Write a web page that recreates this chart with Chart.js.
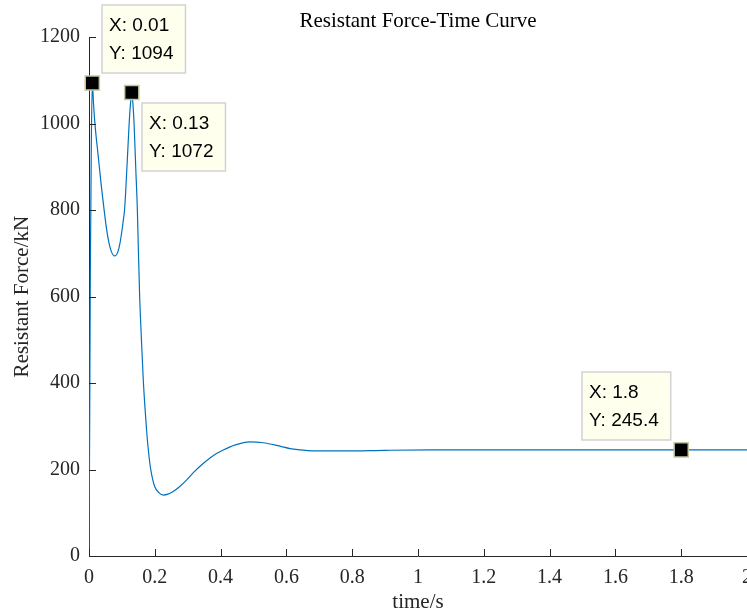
<!DOCTYPE html>
<html>
<head>
<meta charset="utf-8">
<title>Resistant Force-Time Curve</title>
<script src="https://cdn.jsdelivr.net/npm/chart.js@4.4.1/dist/chart.umd.min.js"></script>
<style>
  html, body { margin: 0; padding: 0; background: #fff; overflow: hidden; }
  #wrap { width: 747px; height: 611px; }
</style>
</head>
<body>
<div id="wrap"><canvas id="forceChart"></canvas></div>
<script>
// curve samples (time in s, force in kN)
const timeS = [0, 0.002, 0.004, 0.007, 0.01, 0.014, 0.018, 0.028, 0.038, 0.046, 0.054, 0.061,
  0.068, 0.078, 0.088, 0.094, 0.101, 0.104, 0.108, 0.112, 0.118, 0.122, 0.126, 0.13, 0.134,
  0.137, 0.142, 0.147, 0.15, 0.154, 0.16, 0.165, 0.17, 0.175, 0.18, 0.185, 0.19, 0.2, 0.213,
  0.226, 0.24, 0.256, 0.275, 0.297, 0.32, 0.347, 0.375, 0.408, 0.445, 0.489, 0.53, 0.58,
  0.611, 0.65, 0.7, 0.783, 0.9, 1.04, 1.2, 1.4, 1.6, 1.8, 2.0];
const forceKN = [0, 300, 650, 950, 1094, 1043, 1000, 925, 852, 800, 753, 723,
  704, 694, 704, 723, 757, 775, 800, 850, 940, 1000, 1045, 1072, 1040,
  1000, 900, 800, 710, 600, 490, 407, 345, 291, 248, 214, 190, 160, 146,
  141, 143, 149, 160, 176, 195, 214, 231, 245, 257, 264, 262, 254,
  248.5, 245, 243, 243, 244.5, 245.5, 245.5, 245.4, 245.4, 245.4, 245.4];

// data tips
const tipTime = [0.01, 0.13, 1.8];
const tipForce = [1094, 1072, 245.4];
const tipSide = ['ne', 'se', 'nw'];

// axes
const xTicks = [0, 0.2, 0.4, 0.6, 0.8, 1, 1.2, 1.4, 1.6, 1.8, 2];
const xTickLabels = ['0', '0.2', '0.4', '0.6', '0.8', '1', '1.2', '1.4', '1.6', '1.8', '2'];
const yTicks = [0, 200, 400, 600, 800, 1000, 1200];
const yTickLabels = ['0', '200', '400', '600', '800', '1000', '1200'];

const SERIF = '"Liberation Serif", "Times New Roman", serif';
const AXIS_COLOR = '#262626';

// MATLAB style ticks point into the plot
const inwardTicks = {
    id: 'inwardTicks',
    afterDraw(chart) {
        const { ctx, scales: { x, y } } = chart;
        ctx.save();
        ctx.strokeStyle = AXIS_COLOR;
        ctx.lineWidth = 1;
        ctx.beginPath();
        xTicks.forEach(v => {
            const px = Math.round(x.getPixelForValue(v)) + 0.5;
            ctx.moveTo(px, y.bottom);
            ctx.lineTo(px, y.bottom - 7);
        });
        yTicks.forEach(v => {
            const py = Math.round(y.getPixelForValue(v)) + 0.5;
            ctx.moveTo(x.left, py);
            ctx.lineTo(x.left + 7, py);
        });
        ctx.stroke();
        ctx.restore();
    }
};

// the yellow data tip boxes
const dataTips = {
    id: 'dataTips',
    afterDatasetsDraw(chart) {
        const { ctx, scales: { x, y } } = chart;
        ctx.save();
        ctx.font = '19px "Liberation Sans", Arial, sans-serif';
        ctx.textBaseline = 'middle';
        tipTime.forEach((t, i) => {
            const px = x.getPixelForValue(t);
            const py = y.getPixelForValue(tipForce[i]);
            const lines = ['X: ' + t, 'Y: ' + tipForce[i]];
            const w = Math.max(...lines.map(l => ctx.measureText(l).width)) + 19;
            const h = 68;
            const gap = 10;
            const bx = Math.round(tipSide[i].includes('e') ? px + gap : px - gap - w);
            const by = Math.round(tipSide[i].includes('n') ? py - gap - h : py + gap);
            ctx.fillStyle = '#ffffee';
            ctx.fillRect(bx, by, w, h);
            ctx.strokeStyle = '#d2d2d2';
            ctx.lineWidth = 1.5;
            ctx.strokeRect(bx, by, w, h);
            ctx.fillStyle = '#000';
            ctx.fillText(lines[0], bx + 7, by + 21);
            ctx.fillText(lines[1], bx + 7, by + 49);
        });
        ctx.restore();
    }
};

const ctx = document.getElementById('forceChart').getContext('2d');
new Chart(ctx, {
    type: 'line',
    data: {
        datasets: [{
            label: 'Resistant Force',
            data: timeS.map((t, i) => ({ x: t, y: forceKN[i] })),
            borderColor: '#0072BD',
            borderWidth: 1.2,
            pointRadius: 0,
            cubicInterpolationMode: 'monotone',
            fill: false,
            order: 1
        }, {
            label: 'Data tips',
            data: tipTime.map((t, i) => ({ x: t, y: tipForce[i] })),
            showLine: false,
            pointStyle: 'rect',
            pointRadius: 10,
            pointBackgroundColor: '#000',
            pointBorderColor: '#c5c59e',
            pointBorderWidth: 1.5,
            clip: false,
            order: 0
        }]
    },
    options: {
        responsive: true,
        maintainAspectRatio: false,
        animation: false,
        layout: { padding: 0, autoPadding: false },
        plugins: {
            legend: { display: false },
            tooltip: { enabled: false },
            title: {
                display: true,
                fullSize: false,
                text: 'Resistant Force-Time Curve',
                color: '#000',
                font: { family: SERIF, size: 21, weight: 'normal', lineHeight: 1.2 },
                padding: { top: 9, bottom: 3 }
            }
        },
        scales: {
            x: {
                type: 'linear',
                min: 0,
                max: 2,
                afterBuildTicks: s => { s.ticks = xTicks.map(v => ({ value: v })); },
                afterFit: s => { s.height = 55; s.paddingLeft = 0; s.paddingRight = 0; },
                grid: { display: false, drawTicks: false },
                border: { color: AXIS_COLOR, width: 1 },
                ticks: {
                    color: AXIS_COLOR,
                    font: { family: SERIF, size: 20 },
                    padding: 10,
                    maxRotation: 0,
                    autoSkip: false,
                    callback: (v, i) => xTickLabels[i]
                },
                title: {
                    display: true,
                    text: 'time/s',
                    color: AXIS_COLOR,
                    font: { family: SERIF, size: 21 },
                    padding: { top: 0, bottom: -4 }
                }
            },
            y: {
                min: 0,
                max: 1200,
                afterBuildTicks: s => { s.ticks = yTicks.map(v => ({ value: v })); },
                afterFit: s => { s.width = 89; s.paddingTop = 0; s.paddingBottom = 0; },
                grid: { display: false, drawTicks: false },
                border: { color: AXIS_COLOR, width: 1 },
                ticks: {
                    color: AXIS_COLOR,
                    font: { family: SERIF, size: 20 },
                    padding: 9,
                    callback: (v, i) => yTickLabels[i]
                },
                title: {
                    display: true,
                    text: 'Resistant Force/kN',
                    color: AXIS_COLOR,
                    font: { family: SERIF, size: 21 },
                    padding: { top: 10, bottom: 0 }
                }
            }
        }
    },
    plugins: [inwardTicks, dataTips]
});
</script>
</body>
</html>
